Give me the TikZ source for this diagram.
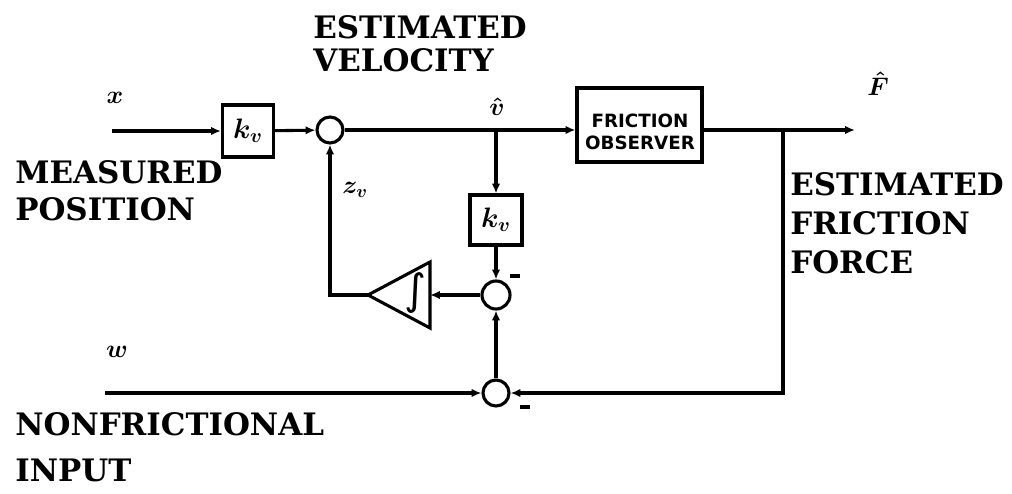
\documentclass[tikz,border=0pt]{standalone}
\usepackage{fix-cm}
\usepackage{amsmath}
\usepackage{fontspec}
\newfontfamily\capsfont{DejaVu Serif}
\newfontfamily\boxfont{DejaVu Sans}
\usetikzlibrary{arrows.meta}
\tikzset{
  blk/.style={draw, line width=2.2pt, inner sep=0pt, font=\fontsize{20}{24}\selectfont\boldmath},
  sumc/.style={draw, circle, line width=2.2pt, inner sep=0pt},
  sig/.style={line width=2.2pt, -{Latex[length=7pt,width=6pt]}},
  wire/.style={line width=2.2pt},
  caps/.style={inner sep=0pt, anchor=north west, align=left},
  mlab/.style={inner sep=0pt, font=\fontsize{18}{21}\selectfont\boldmath},
  minus/.style={inner sep=0pt}
}
\begin{document}
\begin{tikzpicture}[x=0.025cm, y=-0.025cm]
  \useasboundingbox (0,0) rectangle (1012,493);
  % blocks
  \node[blk, minimum width=1.275cm, minimum height=1.3cm] (kv1) at (248,131) {$k_v$};
  \node[sumc, minimum size=0.65cm] (s1) at (330,130) {};
  \node[blk, minimum width=3.125cm, minimum height=1.85cm] (fo) at (639.5,125) {};
  \node[inner sep=0pt, align=center, font=\boxfont\bfseries\fontsize{13}{15.5}\selectfont]
        (fotxt) at (640,132) {FRICTION\\OBSERVER};
  \node[blk, minimum width=1.3cm, minimum height=1.25cm] (kv2) at (496,220) {$k_v$};
  \node[sumc, minimum size=0.7cm] (s2) at (496,295) {};
  \node[sumc, minimum size=0.65cm] (s3) at (496,393) {};
  % integrator
  \coordinate (intR) at (430,295);
  \coordinate (intL) at (368,295);
  \draw[wire, line join=miter] (430,262) -- (430,328) -- (intL) -- cycle;
  \node[inner sep=0pt, font=\boxfont\fontsize{30}{30}\selectfont] (intg) at (415,293) {∫};
  % coordinates
  \coordinate (xin) at (112,131);
  \coordinate (win) at (105,393);
  \coordinate (vb) at (496,130);
  \coordinate (fb) at (783,130);
  \coordinate (fout) at (855,130);
  % signals
  \draw[sig] (xin) -- (kv1);
  \draw[sig] (kv1) -- (s1);
  \draw[sig] (s1) -- (s1 -| fo.west);
  \draw[sig] (vb) -- (kv2);
  \draw[sig] (kv2) -- (s2);
  \draw[sig] (s2) -- (intR);
  \draw[sig] (intL) -| (s1);
  \draw[sig] (s3) -- (s2);
  \draw[sig] (win) -- (s3);
  \draw[sig] (fo.east |- fb) -- (fout);
  \draw[sig] (fb) |- (s3);
  % math labels
  \node[mlab] (lx) at (115,98) {$x$};
  \node[mlab] (lw) at (117,352) {$w$};
  \node[mlab] (lv) at (497,107) {$\hat{v}$};
  \node[mlab] (lz) at (355,190) {$z_v$};
  \node[mlab] (lF) at (878,84) {$\hat{F}$};
  \node[minus] (m2) at (515,276) {\rule{7pt}{2.8pt}};
  \node[minus] (m3) at (525,407) {\rule{7pt}{2.8pt}};
  % text labels
  \node[caps, font=\capsfont\bfseries\fontsize{22}{23.5}\selectfont] (tvel) at (313,15) {ESTIMATED\\VELOCITY};
  \node[caps, font=\capsfont\bfseries\fontsize{22}{26.3}\selectfont] (tpos) at (15,160) {MEASURED\\POSITION};
  \node[caps, font=\capsfont\bfseries\fontsize{22}{28}\selectfont] (tfric) at (790,172) {ESTIMATED\\FRICTION\\FORCE};
  \node[caps, font=\capsfont\bfseries\fontsize{22}{32.7}\selectfont] (tin) at (15,412) {NONFRICTIONAL\\INPUT};
\end{tikzpicture}
\end{document}
